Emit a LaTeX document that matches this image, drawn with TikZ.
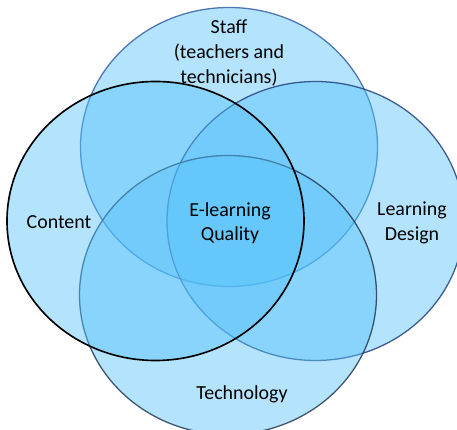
\documentclass[tikz,border=0pt]{standalone}
\usepackage{fontspec}
\setmainfont{Carlito}
\usepackage{tikz}

\definecolor{setfill}{RGB}{86,193,250}
\definecolor{staffline}{RGB}{52,98,168}
\definecolor{designline}{RGB}{36,66,128}
\definecolor{techline}{RGB}{36,58,82}

\begin{document}
\begin{tikzpicture}[x=0.03cm,y=0.03cm,
  setshape/.style={fill=setfill,fill opacity=.45,draw opacity=.85,line width=1.1pt},
  setlabel/.style={align=center,font=\fontsize{17}{21}\selectfont}]
\useasboundingbox (0,0) rectangle (457,430);

% the four sets
\draw[setshape,draw=staffline] (229,283) ellipse [x radius=148.5,y radius=139.5];
\draw[setshape,draw=designline] (315.5,209) ellipse [x radius=148.5,y radius=139.5];
\draw[setshape,draw=techline] (228,135) ellipse [x radius=148.5,y radius=139.5];
\draw[setshape,draw=black,draw opacity=1,line width=1.4pt] (155.5,209) ellipse [x radius=148.5,y radius=139.5];

% labels
\node[setlabel] (staff) at (229,377) {Staff\\(teachers and\\technicians)};
\node[setlabel] (content) at (59,208) {Content};
\node[setlabel] (design) at (412,207) {Learning\\Design};
\node[setlabel] (tech) at (242,36) {Technology};
\node[setlabel] (quality) at (230,207) {E-learning\\Quality};
\end{tikzpicture}
\end{document}
